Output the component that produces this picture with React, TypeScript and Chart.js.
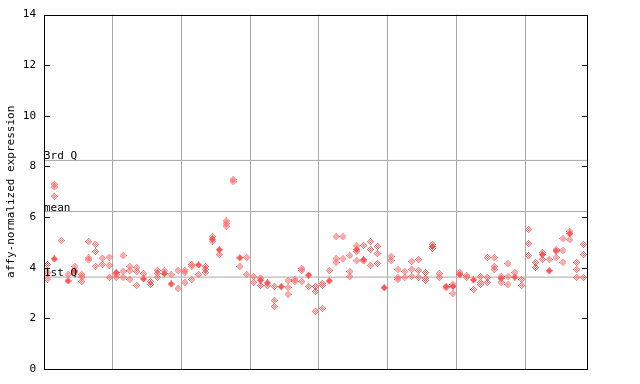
import React, { useEffect, useRef } from "react";
import { Chart, registerables } from "chart.js";

Chart.register(...registerables);

// ---- data ----
const sampleCount = 79;

// hollow (checkered) diamonds per sample
const hollowValues: number[][] = [
  [4.13, 3.8, 3.55],
  [7.3, 7.19, 6.82],
  [5.08],
  [3.73],
  [4.05, 3.8],
  [3.73, 3.64, 3.46],
  [5.03, 4.39, 4.31],
  [4.93, 4.64, 4.06],
  [4.38, 4.14],
  [4.42, 4.1, 3.62],
  [3.73, 3.62],
  [4.48, 3.86, 3.62],
  [4.05, 3.89, 3.54],
  [4.01, 3.85, 3.3],
  [3.77],
  [3.46, 3.34],
  [3.89, 3.77, 3.62],
  [3.88],
  [3.73],
  [3.89, 3.18],
  [3.89, 3.82, 3.42],
  [4.13, 4.06, 3.54],
  [3.73],
  [4.05, 3.93, 3.81],
  [5.23, 5.05],
  [4.52],
  [5.85, 5.74, 5.64],
  [7.48, 7.4],
  [4.05],
  [4.4, 3.73],
  [3.65, 3.42],
  [3.59, 3.3],
  [3.29],
  [3.26, 2.71, 2.47],
  [],
  [3.5, 3.22, 2.95],
  [3.54, 3.46],
  [3.97, 3.89, 3.46],
  [3.26],
  [3.26, 3.06, 2.28],
  [3.38, 3.3, 2.39],
  [3.89],
  [5.23, 4.36, 4.21],
  [5.23, 4.36],
  [4.48, 3.85, 3.65],
  [4.86, 4.64, 4.28],
  [4.88, 4.27],
  [5.03, 4.72, 4.1],
  [4.84, 4.56, 4.17],
  [],
  [4.45, 4.29],
  [3.93, 3.62, 3.54],
  [3.85, 3.62],
  [4.25, 3.94, 3.66],
  [4.33, 3.89, 3.62],
  [3.81, 3.58, 3.5],
  [4.92, 4.76],
  [3.77, 3.62],
  [3.21],
  [3.34, 2.98],
  [3.81],
  [3.69, 3.62],
  [3.14],
  [3.65, 3.42, 3.34],
  [4.4, 3.62, 3.42],
  [4.4, 4.05, 3.93],
  [3.65, 3.42],
  [4.17, 3.65, 3.34],
  [3.81],
  [3.54, 3.3],
  [5.51, 4.96, 4.48],
  [4.21, 4.01],
  [4.6, 4.33],
  [4.33],
  [4.72, 4.4],
  [5.15, 4.68, 4.21],
  [5.43, 5.11],
  [4.21, 3.93, 3.62],
  [4.92, 4.52, 3.62],
];

// solid diamonds per sample (null = none)
const filledValues: (number | null)[] = [
  null, 4.35, null, 3.48, 3.88, null, null, null, null, null,
  3.81, null, null, null, 3.56, null, null, 3.77, 3.36, null,
  null, null, 4.11, null, 5.13, 4.71, null, null, 4.39, null,
  null, 3.51, 3.4, null, 3.25, null, null, null, 3.71, null,
  null, 3.48, null, null, null, 4.72, 4.32, null, null, 3.21,
  null, null, null, null, null, null, 4.84, null, 3.26, 3.26,
  3.73, null, 3.52, null, null, null, 3.58, null, 3.63, null,
  null, null, 4.52, 3.88, 4.66, null, 5.35, null, null,
];

const statLabels = ["3rd Q", "mean", "1st Q"];
const statValues = [8.24, 6.22, 3.63];
const yTicks = [0, 2, 4, 6, 8, 10, 12, 14];
const yTitle = "affy-normalized expression";

// ---- styles ----
const RED = "#ff5757";
const GRID = "#a9a9a9";
const FONT = "'DejaVu Sans Mono', monospace";

function makeDiamond(filled: boolean): HTMLCanvasElement {
  const c = document.createElement("canvas");
  c.width = 7;
  c.height = 7;
  const ctx = c.getContext("2d")!;
  ctx.fillStyle = RED;
  for (let r = 0; r < 7; r++) {
    for (let col = 0; col < 7; col++) {
      const inside = Math.abs(r - 3) + Math.abs(col - 3) <= 3;
      if (inside && (filled || (r + col) % 2 === 1)) ctx.fillRect(col, r, 1, 1);
    }
  }
  return c;
}

const decorPlugin = {
  id: "decor",
  afterDatasetsDraw(chart: any) {
    const { ctx, chartArea } = chart;
    const y = chart.scales.y;
    const { left, right, top, bottom } = chartArea;
    ctx.save();
    // stat labels
    ctx.fillStyle = "#000";
    ctx.font = `11px ${FONT}`;
    ctx.textAlign = "left";
    ctx.textBaseline = "alphabetic";
    statLabels.forEach((lab, i) => {
      const py = Math.round(y.getPixelForValue(statValues[i]));
      ctx.fillText(lab, left, py - 1);
    });
    ctx.restore();
  },
  afterDraw(chart: any) {
    const { ctx, chartArea } = chart;
    const y = chart.scales.y;
    const { left, right, top, bottom } = chartArea;
    ctx.save();
    ctx.strokeStyle = "#000";
    ctx.lineWidth = 1;
    ctx.beginPath();
    ctx.rect(Math.round(left) + 0.5, Math.round(top) + 0.5, Math.round(right - left), Math.round(bottom - top));
    ctx.stroke();
    // inward ticks on both sides
    ctx.beginPath();
    yTicks.forEach((v) => {
      const py = Math.round(y.getPixelForValue(v)) + 0.5;
      ctx.moveTo(left, py);
      ctx.lineTo(left + 6, py);
      ctx.moveTo(right - 5, py);
      ctx.lineTo(right + 1, py);
    });
    ctx.stroke();
    // y title
    ctx.fillStyle = "#000";
    ctx.font = `11px ${FONT}`;
    ctx.textAlign = "center";
    ctx.textBaseline = "middle";
    ctx.translate(11.5, (top + bottom) / 2);
    ctx.rotate(-Math.PI / 2);
    ctx.fillText(yTitle, 0, 0);
    ctx.restore();
  },
};

export default function App() {
  const ref = useRef<HTMLCanvasElement | null>(null);

  useEffect(() => {
    if (!ref.current) return;
    const hollowImg = makeDiamond(false);
    const filledImg = makeDiamond(true);

    const hollowData: { x: number; y: number }[] = [];
    hollowValues.forEach((vals, i) => vals.forEach((v) => hollowData.push({ x: i + 0.5, y: v })));
    const filledData: { x: number; y: number }[] = [];
    filledValues.forEach((v, i) => {
      if (v !== null) filledData.push({ x: i + 0.5, y: v });
    });

    const statSets = statValues.map((v) => ({
      type: "line" as const,
      data: [
        { x: 0, y: v },
        { x: sampleCount, y: v },
      ],
      borderColor: GRID,
      borderWidth: 1,
      pointRadius: 0,
      fill: false,
      order: 5,
    }));

    const chart = new Chart(ref.current, {
      type: "scatter",
      data: {
        datasets: [
          ...statSets,
          {
            type: "scatter" as const,
            data: hollowData,
            pointStyle: hollowImg,
            pointRadius: 3.5,
            order: 1,
          },
          {
            type: "scatter" as const,
            data: filledData,
            pointStyle: filledImg,
            pointRadius: 3.5,
            order: 0,
          },
        ] as any,
      },
      options: {
        responsive: false,
        animation: false,
        layout: { padding: { top: 13, right: 53, left: 0, bottom: 0 } },
        plugins: {
          legend: { display: false },
          tooltip: { enabled: false },
        },
        scales: {
          x: {
            type: "linear",
            min: 0,
            max: sampleCount,
            ticks: { display: false, stepSize: 10 },
            grid: { color: GRID, drawTicks: false, lineWidth: 1 },
            border: { display: false },
            afterFit: (s: any) => {
              s.height = 15;
            },
          },
          y: {
            type: "linear",
            min: 0,
            max: 14,
            ticks: {
              stepSize: 2,
              color: "#000",
              padding: 8,
              font: { family: FONT, size: 11 },
            },
            grid: { display: false, drawTicks: false },
            border: { display: false },
            afterFit: (s: any) => {
              s.width = 44;
            },
          },
        },
      },
      plugins: [decorPlugin],
    });
    return () => chart.destroy();
  }, []);

  return (
    <div style={{ position: "absolute", left: 0, top: 0, width: 640, height: 384, background: "#fff" }}>
      <canvas ref={ref} width={640} height={384} style={{ display: "block", width: 640, height: 384 }} />
    </div>
  );
}
